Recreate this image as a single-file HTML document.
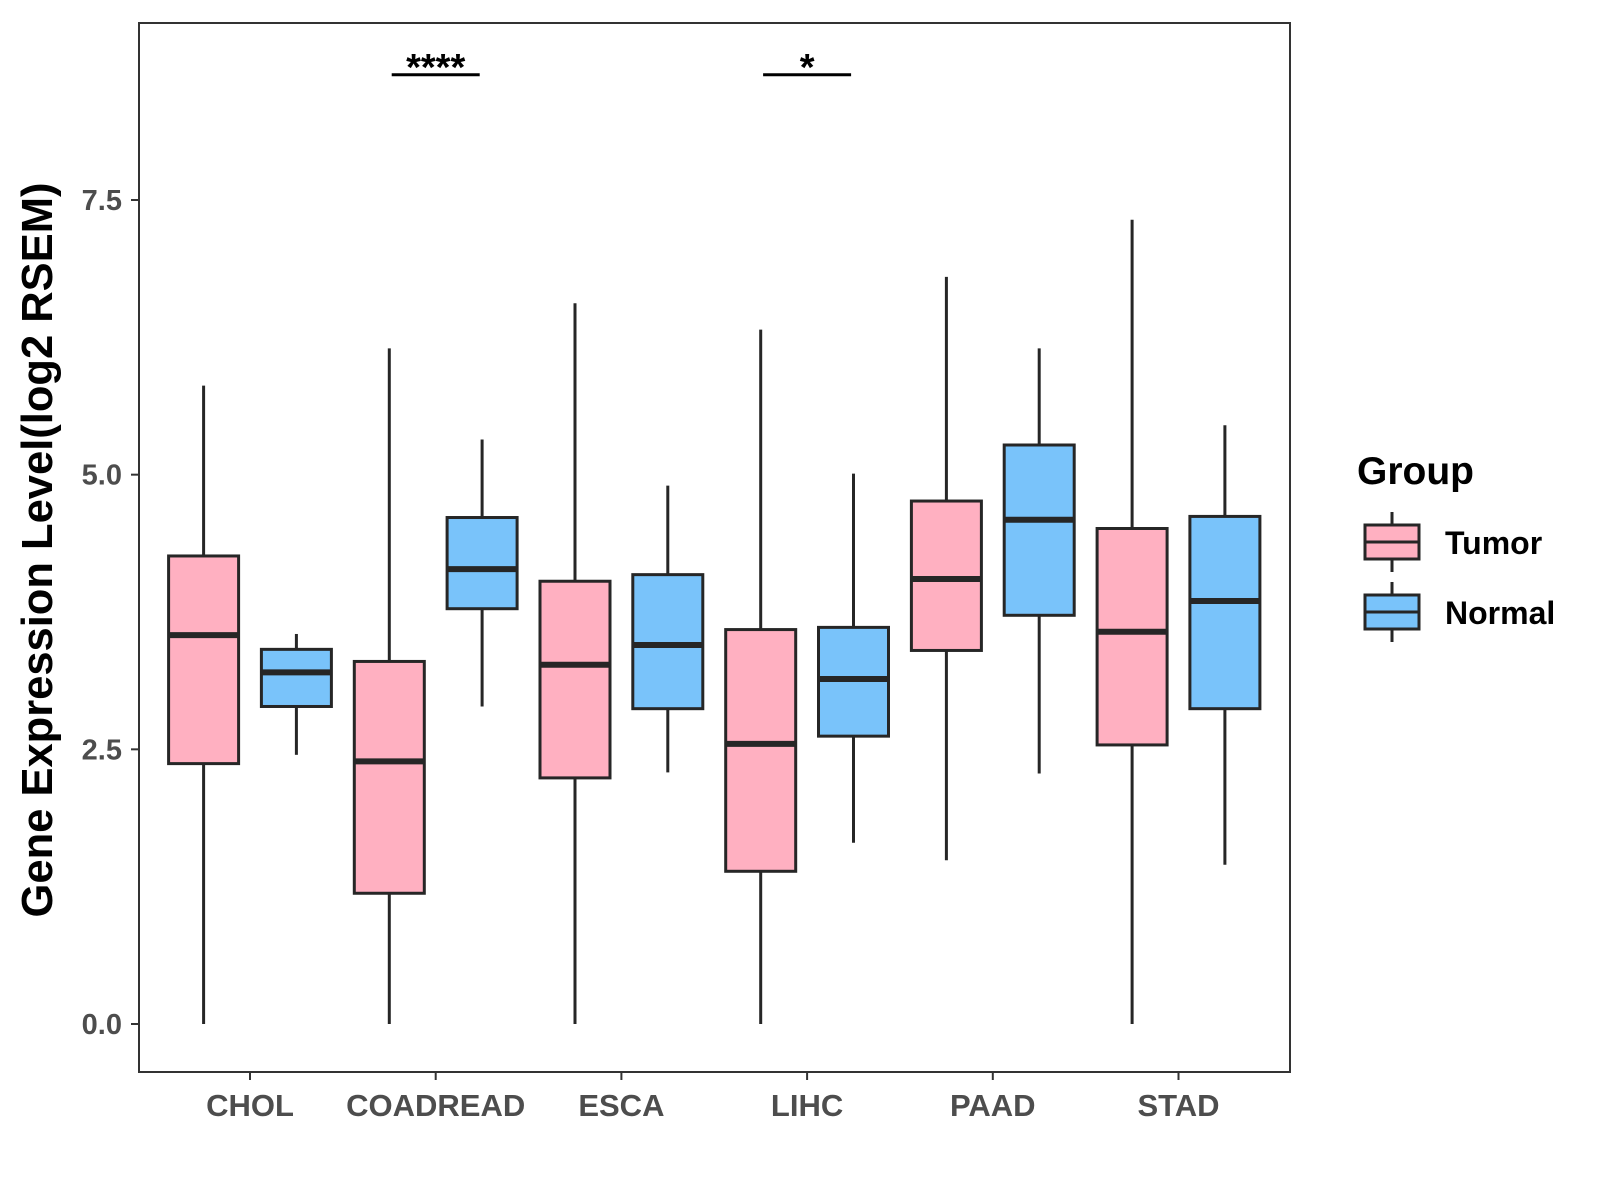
<!DOCTYPE html>
<html><head><meta charset="utf-8"><style>body{margin:0;background:#fff}svg{display:block}text{font-family:"Liberation Sans",Arial,sans-serif;font-weight:bold}</style></head>
<body>
<svg id="chart" width="1600" height="1200" viewBox="0 0 1600 1200" xmlns="http://www.w3.org/2000/svg"></svg>
<script>
const categories=["CHOL","COADREAD","ESCA","LIHC","PAAD","STAD"];
const groups=["Tumor","Normal"];
const tumorStats=[[0,2.37,3.54,4.26,5.81],[0,1.19,2.39,3.30,6.15],[0,2.24,3.27,4.03,6.56],[0,1.39,2.55,3.59,6.32],[1.49,3.40,4.05,4.76,6.80],[0,2.54,3.57,4.51,7.32]];
const normalStats=[[2.45,2.89,3.20,3.41,3.55],[2.89,3.78,4.14,4.61,5.32],[2.29,2.87,3.45,4.09,4.90],[1.65,2.62,3.14,3.61,5.01],[2.28,3.72,4.59,5.27,6.15],[1.45,2.87,3.85,4.62,5.45]];
const yTicks=[0,2.5,5,7.5];
const yTickLabels=["0.0","2.5","5.0","7.5"];
const sigCategories=["COADREAD","LIHC"];
const sigLabels=["****","*"];
const sigLevel=8.64;
const colors=["#FFB0C1","#79C3FA"];
const NS="http://www.w3.org/2000/svg",svg=document.getElementById('chart');
const L=139,R=1290,T=23,B=1072;
const y=v=>1024-v*(824/7.5);
const x=i=>250+i*185.7;
function mk(t,a,p){const e=document.createElementNS(NS,t);for(const k in a)e.setAttribute(k,a[k]);(p||svg).appendChild(e);return e;}
const frame=mk('rect',{x:L,y:T,width:R-L,height:B-T,fill:'none',stroke:'#333',"stroke-width":2});


yTicks.forEach((v,i)=>{
  const g=mk('g',{});
  
  
  mk('line',{x1:L-8,x2:L,y1:y(v),y2:y(v),stroke:'#333',"stroke-width":2},g);
  const t=mk('text',{x:L-17,y:y(v)+10,"text-anchor":"end","font-size":29,fill:'#4d4d4d'},g);t.textContent=yTickLabels[i];
});
categories.forEach((c,i)=>{
  const g=mk('g',{});
  
  
  mk('line',{x1:x(i),x2:x(i),y1:B,y2:B+8,stroke:'#333',"stroke-width":2},g);
  const t=mk('text',{x:x(i),y:1116,"text-anchor":"middle","font-size":31,fill:'#4d4d4d'},g);t.textContent=c;
  [tumorStats[i],normalStats[i]].forEach((s,gi)=>{
    const cx=x(i)+(gi?46.4:-46.4),w=70;
    const b=mk('g',{});
    
    
    mk('line',{x1:cx,x2:cx,y1:y(s[4]),y2:y(s[3]),stroke:'#262626',"stroke-width":3},b);
    mk('line',{x1:cx,x2:cx,y1:y(s[1]),y2:y(s[0]),stroke:'#262626',"stroke-width":3},b);
    mk('rect',{x:cx-w/2,y:y(s[3]),width:w,height:y(s[1])-y(s[3]),fill:colors[gi],stroke:'#262626',"stroke-width":3},b);
    mk('line',{x1:cx-w/2,x2:cx+w/2,y1:y(s[2]),y2:y(s[2]),stroke:'#262626',"stroke-width":6},b);
  });
});
sigCategories.forEach((c,k)=>{
  const i=categories.indexOf(c);
  const g=mk('g',{});
  
  
  mk('line',{x1:x(i)-44,x2:x(i)+44,y1:y(sigLevel),y2:y(sigLevel),stroke:'#000',"stroke-width":3},g);
  const t=mk('text',{x:x(i),y:y(sigLevel)+5,"text-anchor":"middle","font-size":38,fill:'#000'},g);t.textContent=sigLabels[k];
});
const yt=mk('text',{x:0,y:0,transform:'translate(52,550) rotate(-90)',"text-anchor":"middle","font-size":43.5,fill:'#000'});
yt.textContent='Gene Expression Level(log2 RSEM)';


const lg=mk('g',{});


const lt=mk('text',{x:1357,y:484,"font-size":39,fill:'#000'},lg);lt.textContent='Group';
groups.forEach((gname,gi)=>{
  const e=mk('g',{},lg);
  
  
  const cy=542+gi*70;
  mk('line',{x1:1392,x2:1392,y1:cy-30,y2:cy+30,stroke:'#262626',"stroke-width":3},e);
  mk('rect',{x:1365,y:cy-17,width:54,height:34,fill:colors[gi],stroke:'#262626',"stroke-width":3},e);
  mk('line',{x1:1365,x2:1419,y1:cy,y2:cy,stroke:'#262626',"stroke-width":3},e);
  const t=mk('text',{x:1445,y:cy+12,"font-size":32,fill:'#000'},e);t.textContent=gname;
});
</script>
</body></html>
